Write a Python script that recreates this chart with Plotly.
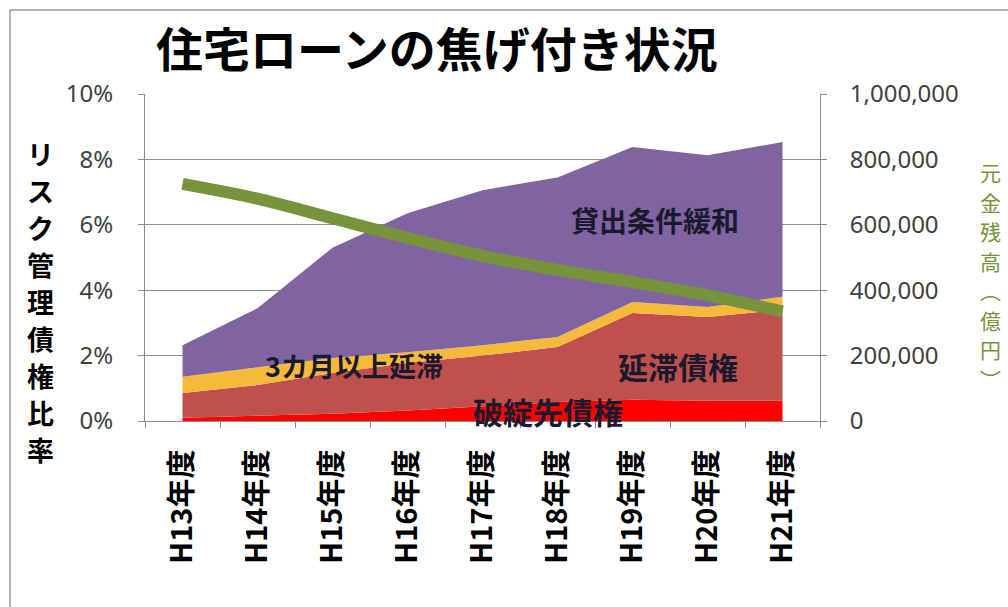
import plotly.graph_objects as go

categories = ["H13年度", "H14年度", "H15年度", "H16年度", "H17年度",
              "H18年度", "H19年度", "H20年度", "H21年度"]
# risk-managed loan ratios (%), stacked
hatan = [0.10, 0.15, 0.22, 0.32, 0.45, 0.58, 0.65, 0.62, 0.62]          # 破綻先債権
entai = [0.76, 0.95, 1.25, 1.45, 1.55, 1.68, 2.65, 2.56, 2.78]          # 延滞債権
sankagetsu = [0.49, 0.55, 0.46, 0.33, 0.32, 0.31, 0.34, 0.31, 0.40]     # 3カ月以上延滞
kanwa = [0.97, 1.80, 3.37, 4.25, 4.74, 4.88, 4.74, 4.64, 4.73]          # 貸出条件緩和
# principal balance (億円)
balance = [725000, 680000, 620000, 560000, 505000, 462000, 425000, 385000, 335000]

y_ticks = [0, 2, 4, 6, 8, 10]
y_ticktext = ["0%", "2%", "4%", "6%", "8%", "10%"]
y2_ticks = [0, 200000, 400000, 600000, 800000, 1000000]
y2_ticktext = ["0", "200,000", "400,000", "600,000", "800,000", "1,000,000"]

left_title = "リスク管理債権比率"
right_title = "元金残高︵億円︶"

CJK = "Noto Sans CJK JP"
NUM = "Noto Sans"

fig = go.Figure()
series = [
    ("破綻先債権", hatan, "#FF0000"),
    ("延滞債権", entai, "#C0504D"),
    ("3カ月以上延滞", sankagetsu, "#F7B93A"),
    ("貸出条件緩和", kanwa, "#8064A2"),
]
for name, vals, col in series:
    fig.add_trace(go.Scatter(
        x=categories, y=vals, name=name, mode="lines",
        stackgroup="risk", line=dict(width=0, color=col),
        fillcolor=col, hoverinfo="skip"))

fig.add_trace(go.Scatter(
    x=categories, y=balance, name="元金残高", mode="lines", yaxis="y2",
    line=dict(color="#77933C", width=12, shape="spline", smoothing=0.8)))

axis_gray = "#8C8C8C"
fig.update_layout(
    width=1008, height=607,
    margin=dict(l=145, r=188, t=94, b=186),
    paper_bgcolor="white", plot_bgcolor="white",
    showlegend=False,
    xaxis=dict(
        type="category", range=[-0.5, 8.5],
        tickson="boundaries", ticks="outside", ticklen=6, tickcolor=axis_gray,
        showline=True, linecolor=axis_gray, linewidth=1,
        showgrid=False, tickangle=-90,
        tickfont=dict(family=CJK, size=29, color="black", weight="bold"),
        ticklabelstandoff=16,
    ),
    yaxis=dict(
        range=[0, 10], tickvals=y_ticks, ticktext=y_ticktext,
        ticks="outside", ticklen=6, tickcolor=axis_gray,
        showline=True, linecolor=axis_gray, linewidth=1,
        showgrid=True, gridcolor=axis_gray, gridwidth=1, zeroline=False,
        tickfont=dict(family=NUM, size=24, color="#404040"),
        ticklabelstandoff=20,
    ),
    yaxis2=dict(
        range=[0, 1000000], tickvals=y2_ticks, ticktext=y2_ticktext,
        overlaying="y", side="right",
        ticks="outside", ticklen=6, tickcolor=axis_gray,
        showline=True, linecolor=axis_gray, linewidth=1,
        showgrid=False, zeroline=False,
        tickfont=dict(family=NUM, size=24, color="#404040"),
        ticklabelstandoff=18,
    ),
)

def px_x(px):
    return (px - 145) / 675

def px_y(py):
    return (421 - py) / 327

fig.add_annotation(
    text="<b>住宅ローンの焦げ付き状況</b>", xref="paper", yref="paper",
    x=px_x(437), y=px_y(46), xanchor="center", yanchor="middle",
    showarrow=False, font=dict(family=CJK, size=47, color="black"))

# vertical axis titles, one character per line
for i, ch in enumerate(left_title):
    fig.add_annotation(
        text=ch, xref="paper", yref="paper",
        x=px_x(40), y=px_y(153 + 37 * i), xanchor="center", yanchor="middle",
        showarrow=False, borderpad=0,
        font=dict(family=CJK, size=27, color="black", weight="bold"))

for i, ch in enumerate(right_title):
    fig.add_annotation(
        text=ch, xref="paper", yref="paper",
        x=px_x(990), y=px_y(172 + 29.5 * i), xanchor="center", yanchor="middle",
        showarrow=False, borderpad=0,
        font=dict(family=CJK, size=21, color="#77933C"))

labels = [
    ("貸出条件緩和", 6.3, 6.15, 28),
    ("3カ月以上延滞", 2.28, 1.71, 27),
    ("延滞債権", 6.6, 1.68, 30),
    ("破綻先債権", 4.87, 0.30, 30),
]
for txt, xi, yi, sz in labels:
    fig.add_annotation(text=txt, x=xi, y=yi, xref="x", yref="y", showarrow=False,
                       xanchor="center", yanchor="middle",
                       font=dict(family=CJK, size=sz, color="#1a1a2e", weight="bold"))

fig.add_shape(type="rect", xref="paper", yref="paper",
              x0=px_x(10), y0=-0.7, x1=1.4, y1=px_y(10),
              line=dict(color="#9A9A9A", width=1.5), layer="below")

fig.write_html("out.html")
